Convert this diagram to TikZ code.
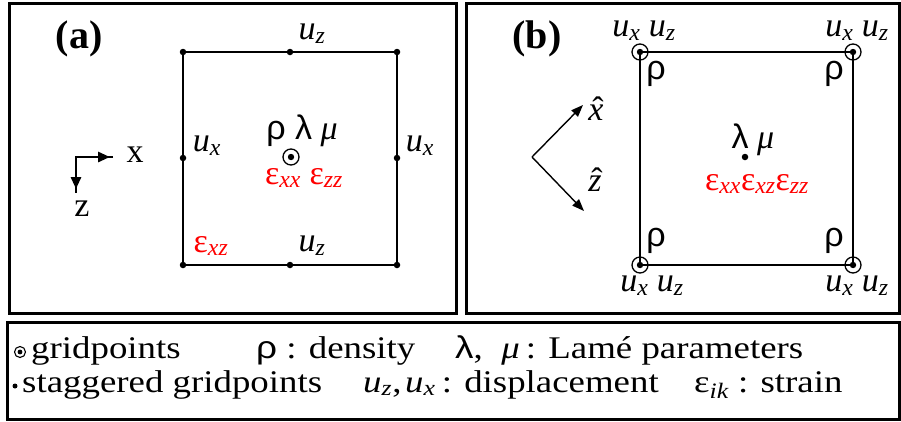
\documentclass[tikz,border=0pt]{standalone}
\usepackage{fontspec}
\setmainfont{Liberation Serif}
\newfontfamily\gsans{Liberation Sans}
\usetikzlibrary{arrows.meta}
\newcommand{\sbs}[1]{\textsubscript{\itshape #1}}
\newcommand{\uu}[1]{\textit{u}\sbs{#1}}
\newcommand{\hatit}[1]{\ooalign{\textit{#1}\cr\hidewidth\kern0.12em ˆ\hidewidth\cr}}
\newcommand{\wide}[1]{\scalebox{1.17}[1]{#1}}
\begin{document}
\begin{tikzpicture}[x=1pt,y=-1pt,
  frame/.style={line width=3pt},
  sq/.style={line width=2.6pt},
  sdot/.style={circle,fill,inner sep=0pt,minimum size=6.5pt},
  gp/.style={circle,draw,line width=1.3pt,inner sep=0pt,minimum size=16pt,
    path picture={\fill (path picture bounding box.center) circle (3.2pt);}},
  lbl/.style={font=\fontsize{34}{36}\selectfont, inner sep=0pt},
  rlbl/.style={lbl, text=red},
  rho/.style={lbl, font=\gsans\fontsize{34}{36}\selectfont},
  ttl/.style={font=\fontsize{40}{42}\selectfont\bfseries, inner sep=0pt},
  leg/.style={font=\fontsize{31.5}{33}\selectfont, inner sep=0pt, anchor=base west},
  axa/.style={line width=2.8pt},
  axb/.style={line width=1.4pt},
  tipa/.style={-{Triangle[length=12pt,width=10pt]}},
  tipb/.style={-{Triangle[length=12pt,width=9pt]}}
]
\useasboundingbox (0,0) rectangle (901,421);

% frames
\draw[frame] (9,3) rectangle (456,313);
\draw[frame] (466,3) rectangle (899.5,313);
\draw[frame] (7,322) rectangle (899.5,419.5);

% ---------- panel (a) ----------
\node[ttl] (ta) at (79,39) {(a)};
\coordinate (A1) at (183,52);
\coordinate (A2) at (397,52);
\coordinate (A3) at (397,265);
\coordinate (A4) at (183,265);
\draw[sq] (A1) -- (A2) -- (A3) -- (A4) -- cycle;
\node[sdot] (a1) at (A1) {};
\node[sdot] (a2) at (A2) {};
\node[sdot] (a3) at (A3) {};
\node[sdot] (a4) at (A4) {};
\node[sdot] (amt) at (290,52) {};
\node[sdot] (amb) at (290,265) {};
\node[sdot] (aml) at (183,158) {};
\node[sdot] (amr) at (397,158) {};
\node[gp] (ac) at (291,157) {};

\node[lbl] (auzt) at (312,34) {\uu{z}};
\node[lbl] (auzb) at (312,246) {\uu{z}};
\node[lbl] (auxl) at (207,146) {\uu{x}};
\node[lbl] (auxr) at (420,146) {\uu{x}};
\node[lbl] (arlm) at (302,131) {{\gsans ρ λ} \textit{μ}};
\node[rlbl] (aeps) at (304,178) {ε\sbs{xx} ε\sbs{zz}};
\node[rlbl] (aexz) at (211,246) {ε\sbs{xz}};

% axes (a)
\coordinate (O1) at (76,157);
\coordinate (X1) at (113,157);
\coordinate (Z1) at (76,193);
\coordinate (X1t) at (110,157);
\coordinate (Z1t) at (76,189);
\draw[axa] (X1) -- (O1) -- (Z1);
\draw[axa,tipa] (O1) -- (X1t);
\draw[axa,tipa] (O1) -- (Z1t);
\node[lbl] (lx) at (135,155) {x};
\node[lbl] (lz) at (82,209) {z};

% ---------- panel (b) ----------
\node[ttl] (tb) at (537,39) {(b)};
\coordinate (B1) at (640,52);
\coordinate (B2) at (853,52);
\coordinate (B3) at (853,265);
\coordinate (B4) at (640,265);
\draw[sq] (B1) -- (B2) -- (B3) -- (B4) -- cycle;
\node[gp] (b1) at (B1) {};
\node[gp] (b2) at (B2) {};
\node[gp] (b3) at (B3) {};
\node[gp] (b4) at (B4) {};
\node[sdot] (bc) at (745,157) {};

\node[lbl] (bu1) at (644,31) {\uu{x} \uu{z}};
\node[lbl] (bu2) at (857,31) {\uu{x} \uu{z}};
\node[lbl] (bu3) at (652,286) {\uu{x} \uu{z}};
\node[lbl] (bu4) at (857,286) {\uu{x} \uu{z}};
\node[rho] (br1) at (656,74) {ρ};
\node[rho] (br2) at (834,74) {ρ};
\node[rho] (br3) at (656,241) {ρ};
\node[rho] (br4) at (834,241) {ρ};
\node[lbl] (blm) at (753,140) {{\gsans λ} \textit{μ}};
\node[rlbl] (beps) at (757,184) {ε\sbs{xx}ε\sbs{xz}ε\sbs{zz}};

% axes (b)
\coordinate (O2) at (532,157);
\coordinate (X2) at (583,105);
\coordinate (Z2) at (584,211);
\draw[axb,tipb] (O2) -- (X2);
\draw[axb,tipb] (O2) -- (Z2);
\node[lbl] (lxh) at (596,113) {\hatit{x}};
\node[lbl] (lzh) at (595,184) {\hatit{z}};

% ---------- legend ----------
\node[gp,minimum size=11pt,line width=1.1pt,
  path picture={\fill (path picture bounding box.center) circle (2.4pt);}] (lg1) at (20,352) {};
\node[sdot,minimum size=5pt] (lg2) at (15,386) {};
\node[leg] (t1) at (31,358) {\wide{gridpoints}};
\node[leg] (t2) at (256,358) {\wide{{\gsans ρ} : density}};
\node[leg] (t3) at (455,358) {\wide{{\gsans λ},\enspace\textit{μ}\,: Lamé parameters}};
\node[leg] (t4) at (22,392) {\wide{staggered gridpoints}};
\node[leg] (t5) at (363,392) {\wide{\uu{z},\kern0.1em\uu{x}\,: displacement}};
\node[leg] (t6) at (694,392) {\wide{ε\sbs{ik} : strain}};
\end{tikzpicture}
\end{document}
